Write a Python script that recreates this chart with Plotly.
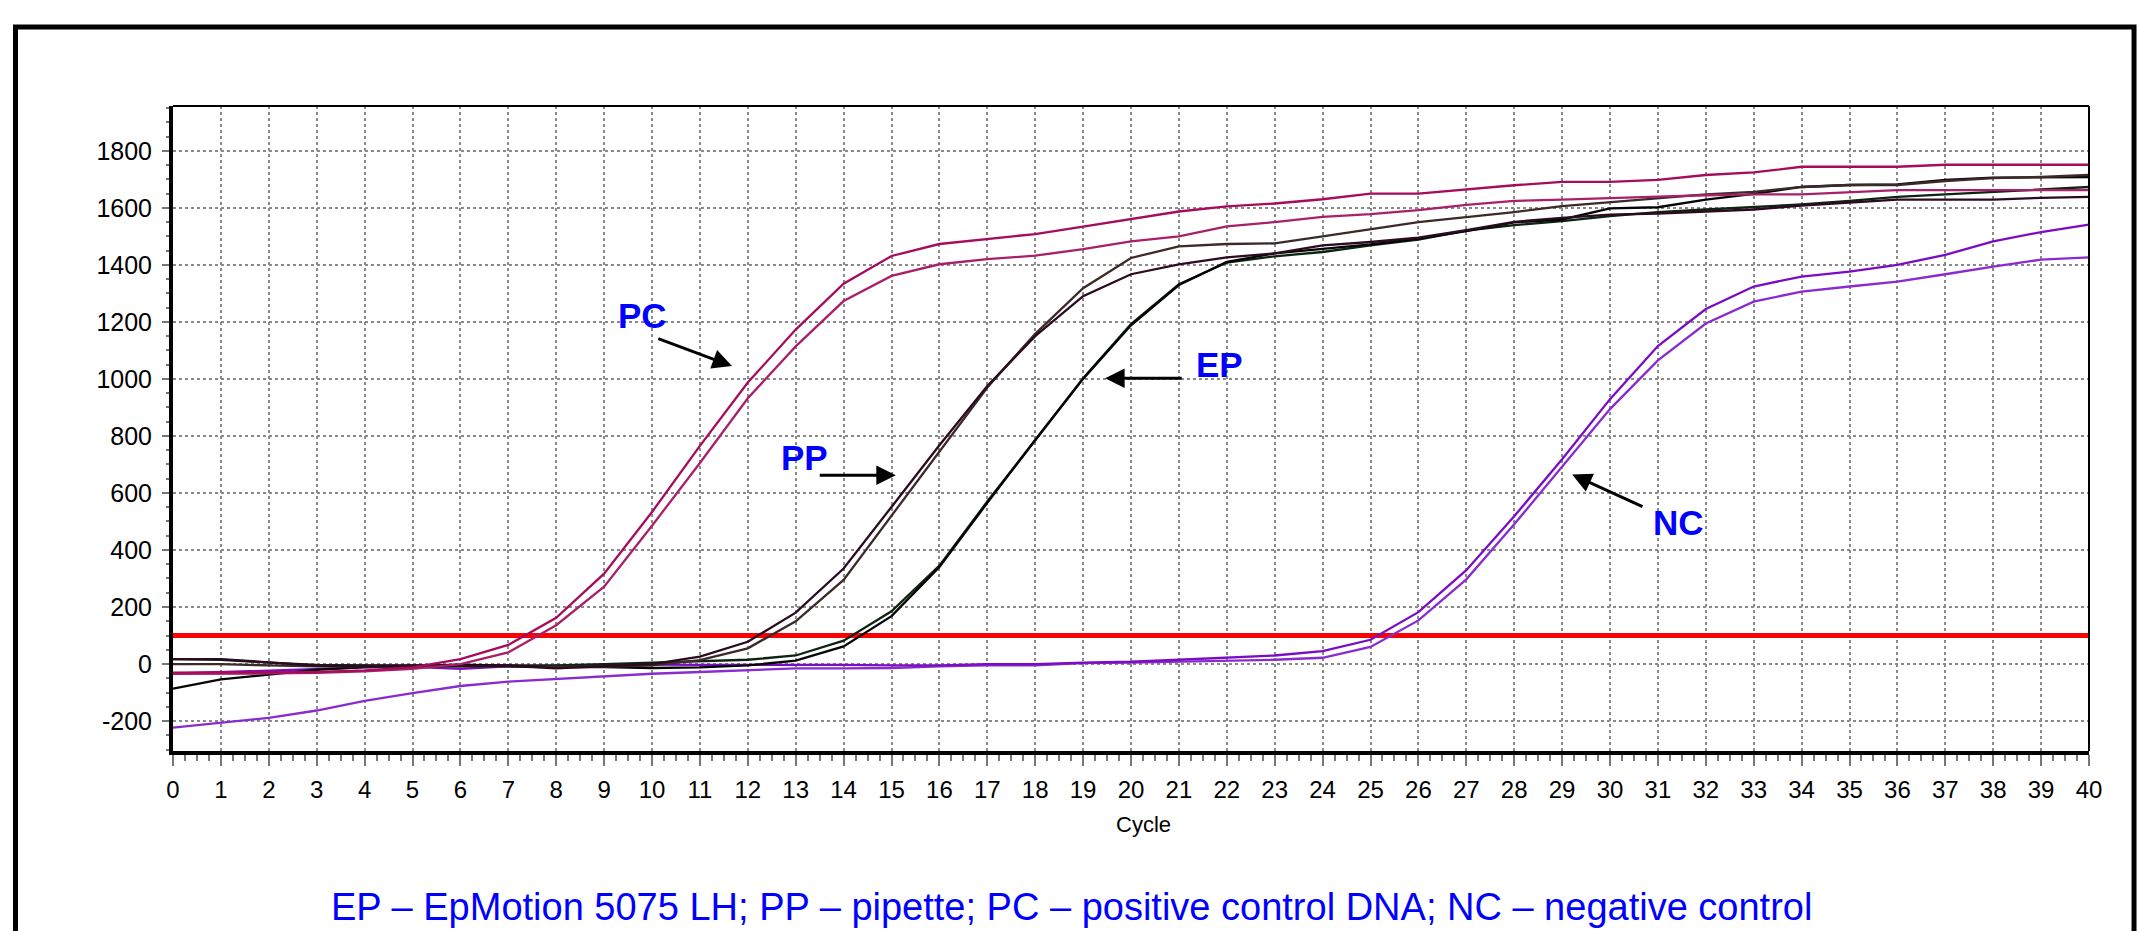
import plotly.graph_objects as go

cycles = list(range(41))

pc_1 = [-30, -30, -30, -28, -22, -12, 17, 67, 162, 317, 533, 765, 987, 1173, 1334, 1431, 1473, 1491,
        1508, 1534, 1561, 1587, 1605, 1615, 1630, 1650, 1650, 1665, 1679, 1691, 1691, 1698, 1715, 1724,
        1744, 1744, 1744, 1751, 1751, 1751, 1751]
pc_2 = [-34, -34, -33, -31, -26, -17, 0, 41, 136, 271, 485, 705, 932, 1114, 1273, 1361, 1402, 1420,
        1432, 1455, 1482, 1500, 1535, 1550, 1568, 1578, 1592, 1610, 1624, 1629, 1635, 1639, 1644, 1647,
        1647, 1654, 1662, 1662, 1662, 1662, 1662]
pp_1 = [17, 17, 6, -6, -6, -6, -8, -6, -15, -8, 0, 26, 78, 180, 335, 551, 767, 975, 1150, 1290, 1367,
        1402, 1426, 1440, 1468, 1480, 1495, 1522, 1551, 1565, 1576, 1580, 1588, 1594, 1608, 1618, 1629,
        1629, 1629, 1635, 1638]
pp_2 = [0, 0, -5, -8, -8, -8, -8, -8, -10, -10, -5, 14, 55, 150, 295, 520, 745, 970, 1158, 1318, 1424,
        1465, 1473, 1475, 1500, 1525, 1550, 1567, 1585, 1606, 1620, 1635, 1647, 1656, 1673, 1680, 1680,
        1694, 1704, 1708, 1715]
ep_1 = [-86, -54, -37, -20, -11, -6, -2, -6, -11, -11, -14, -12, -5, 12, 62, 168, 340, 565, 785, 1000,
        1188, 1329, 1410, 1440, 1455, 1472, 1492, 1518, 1549, 1559, 1598, 1602, 1629, 1649, 1673, 1680,
        1682, 1698, 1706, 1707, 1708]
ep_2 = [17, 15, 5, -3, -5, -5, -5, -5, -5, 0, 5, 10, 15, 30, 82, 185, 345, 570, 785, 1002, 1192, 1332,
        1408, 1430, 1445, 1468, 1488, 1520, 1539, 1553, 1571, 1585, 1594, 1602, 1612, 1624, 1638, 1647,
        1656, 1665, 1673]
nc_1 = [-34, -28, -22, -18, -12, -10, -17, -8, -6, -4, -2, -3, -3, -2, -3, -5, -5, 0, 0, 5, 8, 15, 22,
        30, 45, 85, 182, 329, 518, 718, 929, 1115, 1245, 1324, 1359, 1376, 1400, 1435, 1482, 1515, 1541]
nc_2 = [-223, -205, -189, -163, -129, -102, -77, -62, -52, -43, -34, -28, -22, -15, -15, -14, -8, -5, -5,
        3, 5, 8, 12, 15, 22, 60, 153, 297, 490, 690, 894, 1065, 1194, 1271, 1306, 1324, 1341, 1367, 1394,
        1418, 1426]

threshold = 100
y_ticks = [-200, 0, 200, 400, 600, 800, 1000, 1200, 1400, 1600, 1800]
x_ticks = list(range(41))
caption = "EP \u2013 EpMotion 5075 LH; PP \u2013 pipette; PC \u2013 positive control DNA; NC \u2013 negative control"

series = [
    (nc_2, "#8A2BD0"),
    (nc_1, "#7A0CC4"),
    (ep_2, "#0C2410"),
    (ep_1, "#050505"),
    (pp_2, "#3B2A28"),
    (pp_1, "#2C0A20"),
    (pc_2, "#A8206A"),
    (pc_1, "#A50C5C"),
]

fig = go.Figure()
fig.add_trace(go.Scatter(x=[cycles[0], cycles[-1]], y=[threshold, threshold], mode="lines",
                         line=dict(color="#FF0000", width=5), hoverinfo="skip"))
for vals, col in series:
    fig.add_trace(go.Scatter(x=cycles, y=vals, mode="lines", line=dict(color=col, width=2.3)))

fig.update_layout(
    width=2138, height=931,
    margin=dict(l=173, r=49, t=106, b=180),
    paper_bgcolor="white", plot_bgcolor="white",
    showlegend=False,
    font=dict(family="Liberation Sans, Arial, sans-serif", color="black"),
)
fig.update_xaxes(
    range=[0, 40], tickvals=x_ticks, ticktext=[str(v) for v in x_ticks],
    tickfont=dict(size=24, color="black"), ticklabelstandoff=3,
    showline=True, linewidth=4, linecolor="black",
    ticks="outside", ticklen=11, tickwidth=2, tickcolor="#777777",
    minor=dict(dtick=0.25, ticklen=6, tickwidth=2, tickcolor="#777777", ticks="outside",
               showgrid=False, gridcolor="rgba(0,0,0,0)"),
    showgrid=True, gridcolor="#8a8a8a", griddash="dot", gridwidth=2, zeroline=False,
)
fig.update_yaxes(
    range=[-305, 1957], tickvals=y_ticks, ticktext=[str(v) for v in y_ticks],
    tickfont=dict(size=25, color="black"), ticklabelstandoff=5,
    showline=True, linewidth=4, linecolor="black",
    ticks="outside", ticklen=7, tickwidth=2, tickcolor="#777777",
    minor=dict(dtick=50, ticklen=3, tickwidth=2, tickcolor="#777777", ticks="outside",
               showgrid=False, gridcolor="rgba(0,0,0,0)"),
    showgrid=True, gridcolor="#8a8a8a", griddash="dot", gridwidth=2, zeroline=False,
)

shapes = [
    dict(type="line", xref="paper", yref="paper", x0=0, x1=1, y0=1, y1=1, line=dict(color="black", width=2)),
    dict(type="line", xref="paper", yref="paper", x0=1, x1=1, y0=0, y1=1, line=dict(color="black", width=2)),
    dict(type="rect", xref="paper", yref="paper", x0=-0.0822, x1=1.0235, y0=-0.40, y1=1.1225,
         line=dict(color="black", width=5), fillcolor="rgba(0,0,0,0)"),
]
fig.update_layout(shapes=shapes)

lab_font = dict(family="Liberation Sans, Arial, sans-serif", size=35, color="#0000FF")
annotations = [
    dict(x=0.5063, y=-0.1147, xref="paper", yref="paper", text="Cycle", showarrow=False,
         font=dict(size=22, color="black"), xanchor="center", yanchor="middle"),
    dict(x=0.4687, y=-0.2419, xref="paper", yref="paper", text=caption, showarrow=False,
         font=dict(family="Liberation Sans, Arial, sans-serif", size=38, color="#0000FF"),
         xanchor="center", yanchor="middle"),
    dict(x=9.81, y=1223, text="<b>PC</b>", showarrow=False, font=lab_font),
    dict(x=13.19, y=725, text="<b>PP</b>", showarrow=False, font=lab_font),
    dict(x=21.84, y=1052, text="<b>EP</b>", showarrow=False, font=lab_font),
    dict(x=31.42, y=497, text="<b>NC</b>", showarrow=False, font=lab_font),
    dict(x=11.67, y=1045, ax=10.10, ay=1143, axref="x", ayref="y", text="", showarrow=True,
         arrowhead=2, arrowsize=1.3, arrowwidth=3, arrowcolor="black"),
    dict(x=15.09, y=662, ax=13.47, ay=662, axref="x", ayref="y", text="", showarrow=True,
         arrowhead=2, arrowsize=1.3, arrowwidth=3, arrowcolor="black"),
    dict(x=19.46, y=1002, ax=21.09, ay=1002, axref="x", ayref="y", text="", showarrow=True,
         arrowhead=2, arrowsize=1.3, arrowwidth=3, arrowcolor="black"),
    dict(x=29.21, y=665, ax=30.71, ay=550, axref="x", ayref="y", text="", showarrow=True,
         arrowhead=2, arrowsize=1.3, arrowwidth=3, arrowcolor="black"),
]
fig.update_layout(annotations=annotations)

fig.write_html(
    "out.html",
    config={"displayModeBar": False},
    post_script="document.body.style.margin='0';document.body.style.overflow='hidden';",
)
